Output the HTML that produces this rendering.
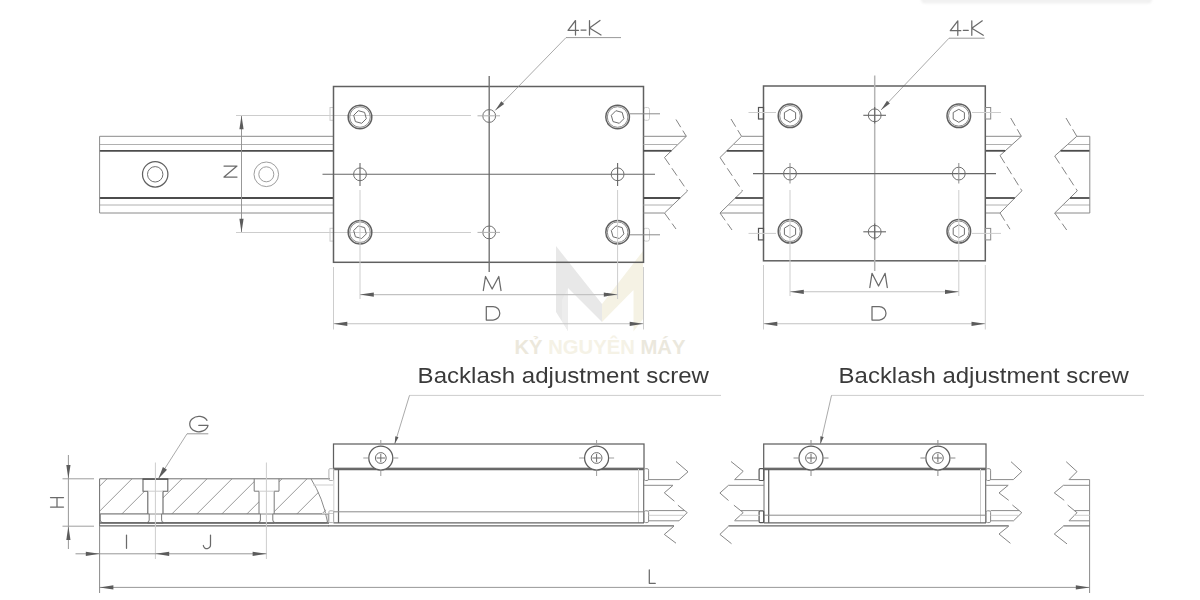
<!DOCTYPE html>
<html><head><meta charset="utf-8"><title>Linear stage drawing</title>
<style>
html,body{margin:0;padding:0;background:#fff;}
svg{display:block;}
line,polyline,path,circle,rect{fill:none;stroke-linecap:butt;stroke-linejoin:miter;}
.k{stroke:#606060;stroke-width:1.5}
.k3{stroke:#606060;stroke-width:1.25}
.k4{stroke:#707070;stroke-width:1.35}
.c2{stroke:#b4b4b4;stroke-width:1.5}
.k1{stroke:#666;stroke-width:1.1}
.k2{stroke:#4c4c4c;stroke-width:1.8}
.kw{stroke:#5e5e5e;stroke-width:1.25;fill:#fff}
.mw{stroke:#7a7a7a;stroke-width:1;fill:#fff}
.kf{stroke:#606060;stroke-width:1.5;fill:#fff}
.kc{stroke:#666;stroke-width:1.1;fill:#fff}
.m{stroke:#8a8a8a;stroke-width:1}
.m2{stroke:#6e6e6e;stroke-width:1}
.m4{stroke:#999;stroke-width:0.95}
.m3{stroke:#555;stroke-width:1.2}
.l{stroke:#cdcdcd;stroke-width:1}
.l2{stroke:#aaa;stroke-width:1}
.l3{stroke:#b0b0b0;stroke-width:1}
.d{stroke:#c2c2c2;stroke-width:1.1}
.t{stroke:#8c8c8c;stroke-width:0.9}
.t2{stroke:#858585;stroke-width:0.7}
.t3{stroke:#777;stroke-width:0.9}
.h{stroke:#808080;stroke-width:0.8}
.tx{stroke:#6a6a6a;stroke-width:1.25;stroke-linejoin:round;stroke-linecap:round}
.bl{font-family:"Liberation Sans",sans-serif;font-size:22.4px;fill:#3a3a3a;}
.wm{font-family:"Liberation Sans",sans-serif;font-size:19.5px;font-weight:bold;}
</style></head>
<body>
<svg width="1200" height="600" viewBox="0 0 1200 600">
<defs><filter id="bl" x="-10%" y="-100%" width="120%" height="300%"><feGaussianBlur stdDeviation="1.3"/></filter></defs>
<rect x="0" y="0" width="1200" height="600" style="fill:#fff;stroke:none"/>
<g opacity="0.9">
<polygon fill="#e6e6e6" points="556,246 602,304 602,322 568,288 568,331 556,312"/>
<polygon fill="#f4f1e2" points="643,251 602,304 602,322 633.5,290 633.5,331.5 643,319"/>
<polygon fill="#ececec" points="568,288 568,331 562,321 562,300"/>
</g>
<text class="wm" x="514.5" y="353.7" textLength="171" lengthAdjust="spacingAndGlyphs"><tspan fill="#ece8dc">KỶ</tspan><tspan fill="#f5f2e6"> NGUYÊN </tspan><tspan fill="#ebe8dd">MÁY</tspan></text>
<rect x="921" y="-5" width="231" height="8.5" rx="4" style="fill:#f1f1f1;stroke:none" filter="url(#bl)"/>
<g id="dwg" style="filter:blur(0.35px)">
<line class="m" x1="99.6" y1="136.3" x2="333.5" y2="136.3"/>
<line class="l3" x1="99.6" y1="144.5" x2="333.5" y2="144.5"/>
<line class="k2" x1="99.6" y1="150.8" x2="333.5" y2="150.8"/>
<line class="k2" x1="99.6" y1="198" x2="333.5" y2="198"/>
<line class="l3" x1="99.6" y1="205" x2="333.5" y2="205"/>
<line class="m" x1="99.6" y1="213" x2="333.5" y2="213"/>
<line class="m" x1="99.6" y1="136.3" x2="99.6" y2="213"/>
<circle class="k3" cx="155.2" cy="174.3" r="12.7"/>
<circle class="m2" cx="155.2" cy="174.3" r="7.7"/>
<circle class="m4" cx="266.3" cy="174.3" r="12.3"/>
<circle class="m4" cx="266.3" cy="174.3" r="7.5"/>
<line class="t" x1="241.5" y1="115.5" x2="241.5" y2="232.5"/>
<polygon fill="#5c5c5c" points="241.5,115.5 243.6,129.3 239.4,129.3"/>
<polygon fill="#5c5c5c" points="241.5,232.5 239.4,218.7 243.6,218.7"/>
<line class="l" x1="236" y1="115.5" x2="471" y2="115.5"/>
<line class="l" x1="236" y1="232.5" x2="471" y2="232.5"/>
<polyline class="tx" points="224,166 237,166 224,177 237,177"/>
<rect class="l" x="330" y="107.5" width="3.5" height="12.8" rx="0"/>
<rect class="l" x="643.5" y="107.5" width="6" height="12.8" rx="2"/>
<rect class="l" x="330" y="228.3" width="3.5" height="12.8" rx="0"/>
<rect class="l" x="643.5" y="228.3" width="6" height="12.8" rx="2"/>
<rect class="k" x="333.5" y="86.5" width="310" height="175.8" rx="0"/>
<line class="k4" x1="489.2" y1="76" x2="489.2" y2="272"/>
<line class="k1" x1="322.5" y1="174.3" x2="655" y2="174.3"/>
<circle class="k" cx="360" cy="117" r="11.8"/>
<circle class="m" cx="360" cy="117" r="10.3"/>
<polyline class="m2" points="366.3,118.7 361.7,123.3 355.4,121.6 353.7,115.3 358.3,110.7 364.6,112.4 366.3,118.7"/>
<circle class="k" cx="360" cy="232.2" r="11.8"/>
<circle class="m" cx="360" cy="232.2" r="10.3"/>
<polyline class="m2" points="366.3,233.9 361.7,238.5 355.4,236.8 353.7,230.5 358.3,225.9 364.6,227.6 366.3,233.9"/>
<circle class="m2" cx="360" cy="174.3" r="6.4"/>
<line class="k1" x1="360" y1="163" x2="360" y2="186"/>
<circle class="k" cx="617.6" cy="117" r="11.8"/>
<circle class="m" cx="617.6" cy="117" r="10.3"/>
<polyline class="m2" points="623.9,118.7 619.3,123.3 613.0,121.6 611.3,115.3 615.9,110.7 622.2,112.4 623.9,118.7"/>
<circle class="k" cx="617.6" cy="232.2" r="11.8"/>
<circle class="m" cx="617.6" cy="232.2" r="10.3"/>
<polyline class="m2" points="623.9,233.9 619.3,238.5 613.0,236.8 611.3,230.5 615.9,225.9 622.2,227.6 623.9,233.9"/>
<circle class="m2" cx="617.6" cy="174.3" r="6.4"/>
<line class="k1" x1="617.6" y1="163" x2="617.6" y2="186"/>
<circle class="m2" cx="489.2" cy="116" r="6.4"/>
<circle class="m2" cx="489.2" cy="232.4" r="6.4"/>
<line class="l3" x1="477.5" y1="115.8" x2="500" y2="115.8"/>
<line class="l3" x1="477.5" y1="232.4" x2="500" y2="232.4"/>
<line class="m" x1="630" y1="113.8" x2="660" y2="113.8"/>
<line class="m" x1="630" y1="234.8" x2="660" y2="234.8"/>
<line class="l" x1="360" y1="190" x2="360" y2="299"/>
<line class="l" x1="617.6" y1="190" x2="617.6" y2="299"/>
<line class="d" x1="360" y1="294.6" x2="617.6" y2="294.6"/>
<polygon fill="#5c5c5c" points="360.0,294.6 373.8,292.5 373.8,296.7"/>
<polygon fill="#5c5c5c" points="617.6,294.6 603.8,296.7 603.8,292.5"/>
<line class="l" x1="333.5" y1="267" x2="333.5" y2="329.5"/>
<line class="l" x1="643.5" y1="267" x2="643.5" y2="329.5"/>
<line class="d" x1="333.5" y1="323.8" x2="643.5" y2="323.8"/>
<polygon fill="#5c5c5c" points="333.5,323.8 347.3,321.7 347.3,325.9"/>
<polygon fill="#5c5c5c" points="643.5,323.8 629.7,325.9 629.7,321.7"/>
<polyline class="tx" points="483.3,290.5 485.5,276.5 492.15,289.0 498.8,276.5 501,290.5"/>
<path class="tx" d="M486.3,306.5 V320 H493.05 A6.75,6.75 0 0 0 493.05,306.5 Z"/>
<path class="tx" d="M575.5,35 V20.5 L568,30.36 H578.5"/>
<line class="tx" x1="581" y1="30.07" x2="586" y2="30.07"/>
<path class="tx" d="M589.5,20.5 V35 M600.0,20.5 L589.5,28.04 L601.0,35"/>
<line class="t" x1="566" y1="37.6" x2="621" y2="37.6"/>
<line class="t2" x1="566" y1="37.6" x2="495.2" y2="110.4"/>
<polygon fill="#5c5c5c" points="495.2,110.4 501.3,101.3 504.2,104.1"/>
<path class="tx" d="M957.8,35.3 V20.8 L950.3,30.659999999999997 H960.8"/>
<line class="tx" x1="963.3" y1="30.369999999999997" x2="968.3" y2="30.369999999999997"/>
<path class="tx" d="M971.8,20.8 V35.3 M982.3,20.8 L971.8,28.34 L983.3,35.3"/>
<line class="t" x1="949" y1="38.2" x2="984.6" y2="38.2"/>
<line class="t2" x1="949" y1="38.2" x2="881" y2="110"/>
<polygon fill="#5c5c5c" points="881.0,110.0 887.0,100.8 889.9,103.5"/>
<line class="t3" x1="676" y1="119.5" x2="686.3" y2="136.3" stroke-dasharray="9 4"/>
<line class="t3" x1="664.5" y1="157.5" x2="687.5" y2="191" stroke-dasharray="9 4"/>
<line class="t3" x1="664.5" y1="213" x2="676" y2="229" stroke-dasharray="9 4"/>
<line class="t3" x1="686.3" y1="136.3" x2="664.5" y2="157.5"/>
<line class="t3" x1="687.5" y1="191" x2="664.5" y2="213"/>
<line class="m" x1="643.5" y1="136.3" x2="686.3" y2="136.3"/>
<line class="l3" x1="643.5" y1="144.5" x2="677.9" y2="144.5"/>
<line class="k2" x1="643.5" y1="150.8" x2="671.4" y2="150.8"/>
<line class="k2" x1="643.5" y1="198" x2="680.2" y2="198"/>
<line class="l3" x1="643.5" y1="205" x2="672.9" y2="205"/>
<line class="m" x1="643.5" y1="213" x2="664.5" y2="213"/>
<line class="t3" x1="731" y1="119" x2="741.5" y2="136.3" stroke-dasharray="9 4"/>
<line class="t3" x1="720" y1="157.5" x2="742.5" y2="191" stroke-dasharray="9 4"/>
<line class="t3" x1="720" y1="213" x2="732" y2="230" stroke-dasharray="9 4"/>
<line class="t3" x1="741.5" y1="136.3" x2="720" y2="157.5"/>
<line class="t3" x1="742.5" y1="191" x2="720" y2="213"/>
<line class="m" x1="763.5" y1="136.3" x2="741.5" y2="136.3"/>
<line class="l3" x1="763.5" y1="144.5" x2="733.2" y2="144.5"/>
<line class="k2" x1="763.5" y1="150.8" x2="726.8" y2="150.8"/>
<line class="k2" x1="763.5" y1="198" x2="735.3" y2="198"/>
<line class="l3" x1="763.5" y1="205" x2="728.2" y2="205"/>
<line class="m" x1="763.5" y1="213" x2="720.0" y2="213"/>
<line class="t3" x1="1010.7" y1="118" x2="1021.3" y2="136.3" stroke-dasharray="9 4"/>
<line class="t3" x1="1000" y1="155.5" x2="1021.9" y2="190.8" stroke-dasharray="9 4"/>
<line class="t3" x1="1000" y1="213" x2="1010" y2="229.2" stroke-dasharray="9 4"/>
<line class="t3" x1="1021.3" y1="136.3" x2="1000" y2="155.5"/>
<line class="t3" x1="1021.9" y1="190.8" x2="1000" y2="213"/>
<line class="m" x1="985.3" y1="136.3" x2="1021.3" y2="136.3"/>
<line class="l3" x1="985.3" y1="144.5" x2="1012.2" y2="144.5"/>
<line class="k2" x1="985.3" y1="150.8" x2="1005.2" y2="150.8"/>
<line class="k2" x1="985.3" y1="198" x2="1014.8" y2="198"/>
<line class="l3" x1="985.3" y1="205" x2="1007.9" y2="205"/>
<line class="m" x1="985.3" y1="213" x2="1000.0" y2="213"/>
<line class="t3" x1="1066" y1="118" x2="1076.8" y2="136.3" stroke-dasharray="9 4"/>
<line class="t3" x1="1054.7" y1="156" x2="1077.3" y2="190.8" stroke-dasharray="9 4"/>
<line class="t3" x1="1054.7" y1="213" x2="1066.7" y2="230" stroke-dasharray="9 4"/>
<line class="t3" x1="1076.8" y1="136.3" x2="1054.7" y2="156"/>
<line class="t3" x1="1077.3" y1="190.8" x2="1054.7" y2="213"/>
<line class="m" x1="1089.8" y1="136.3" x2="1076.8" y2="136.3"/>
<line class="l3" x1="1089.8" y1="144.5" x2="1067.6" y2="144.5"/>
<line class="k2" x1="1089.8" y1="150.8" x2="1060.5" y2="150.8"/>
<line class="k2" x1="1089.8" y1="198" x2="1070.0" y2="198"/>
<line class="l3" x1="1089.8" y1="205" x2="1062.8" y2="205"/>
<line class="m" x1="1089.8" y1="213" x2="1054.7" y2="213"/>
<line class="m" x1="1089.8" y1="136.3" x2="1089.8" y2="213"/>
<rect class="k" x="763.5" y="86" width="221.8" height="174.8" rx="0"/>
<line class="c2" x1="874.7" y1="75.5" x2="874.7" y2="271"/>
<line class="k1" x1="753" y1="173.6" x2="996" y2="173.6"/>
<circle class="k" cx="790" cy="115.8" r="11.8"/>
<circle class="m" cx="790" cy="115.8" r="10.3"/>
<polyline class="m2" points="795.6,119.0 790.0,122.3 784.4,119.0 784.4,112.5 790.0,109.3 795.6,112.5 795.6,119.0"/>
<circle class="k" cx="790" cy="231.3" r="11.8"/>
<circle class="m" cx="790" cy="231.3" r="10.3"/>
<polyline class="m2" points="795.6,234.6 790.0,237.8 784.4,234.6 784.4,228.1 790.0,224.8 795.6,228.1 795.6,234.6"/>
<circle class="m2" cx="790" cy="173.6" r="6.4"/>
<line class="m" x1="790" y1="163" x2="790" y2="183.5"/>
<circle class="k" cx="958.8" cy="115.8" r="11.8"/>
<circle class="m" cx="958.8" cy="115.8" r="10.3"/>
<polyline class="m2" points="964.4,119.0 958.8,122.3 953.2,119.0 953.2,112.5 958.8,109.3 964.4,112.5 964.4,119.0"/>
<circle class="k" cx="958.8" cy="231.3" r="11.8"/>
<circle class="m" cx="958.8" cy="231.3" r="10.3"/>
<polyline class="m2" points="964.4,234.6 958.8,237.8 953.2,234.6 953.2,228.1 958.8,224.8 964.4,228.1 964.4,234.6"/>
<circle class="m2" cx="958.8" cy="173.6" r="6.4"/>
<line class="m" x1="958.8" y1="163" x2="958.8" y2="183.5"/>
<circle class="m2" cx="874.7" cy="115.3" r="6.4"/>
<circle class="m2" cx="874.7" cy="231.8" r="6.4"/>
<line class="k1" x1="863.3" y1="115.3" x2="886" y2="115.3"/>
<line class="k1" x1="863.3" y1="231.8" x2="886" y2="231.8"/>
<line class="k1" x1="874.7" y1="107" x2="874.7" y2="123.5"/>
<line class="k1" x1="874.7" y1="223.5" x2="874.7" y2="240"/>
<rect class="m3" x="758.5" y="107.5" width="5" height="11.5" rx="0"/>
<rect class="m" x="985.3" y="107.5" width="5.4" height="11.5" rx="0"/>
<line class="l" x1="748.5" y1="112.5" x2="776" y2="112.5"/>
<line class="l" x1="972" y1="112.5" x2="1001" y2="112.5"/>
<rect class="m3" x="758.5" y="228.4" width="5" height="11.5" rx="0"/>
<rect class="m" x="985.3" y="228.4" width="5.4" height="11.5" rx="0"/>
<line class="l" x1="748.5" y1="233.4" x2="776" y2="233.4"/>
<line class="l" x1="972" y1="233.4" x2="1001" y2="233.4"/>
<line class="l" x1="790" y1="190" x2="790" y2="296"/>
<line class="l" x1="958.8" y1="190" x2="958.8" y2="296"/>
<line class="d" x1="790" y1="291.8" x2="958.8" y2="291.8"/>
<polygon fill="#5c5c5c" points="790.0,291.8 803.8,289.7 803.8,293.9"/>
<polygon fill="#5c5c5c" points="958.8,291.8 945.0,293.9 945.0,289.7"/>
<line class="l" x1="763.5" y1="265" x2="763.5" y2="329.5"/>
<line class="l" x1="985.3" y1="265" x2="985.3" y2="329.5"/>
<line class="d" x1="763.5" y1="323.8" x2="985.3" y2="323.8"/>
<polygon fill="#5c5c5c" points="763.5,323.8 777.3,321.7 777.3,325.9"/>
<polygon fill="#5c5c5c" points="985.3,323.8 971.5,325.9 971.5,321.7"/>
<polyline class="tx" points="869.8,287.5 872.0,273.3 878.55,286.0 885.0999999999999,273.3 887.3,287.5"/>
<path class="tx" d="M872,306.5 V320 H879.25 A6.75,6.75 0 0 0 879.25,306.5 Z"/>
<defs><clipPath id="hc"><path d="M99.6,478.8 H311 Q323,498 327.5,514 H99.6 Z"/></clipPath></defs>
<g clip-path="url(#hc)">
<line class="h" x1="82" y1="478.8" x2="46" y2="514.8"/>
<line class="h" x1="107" y1="478.8" x2="71" y2="514.8"/>
<line class="h" x1="132" y1="478.8" x2="96" y2="514.8"/>
<line class="h" x1="157" y1="478.8" x2="121" y2="514.8"/>
<line class="h" x1="182" y1="478.8" x2="146" y2="514.8"/>
<line class="h" x1="207" y1="478.8" x2="171" y2="514.8"/>
<line class="h" x1="232" y1="478.8" x2="196" y2="514.8"/>
<line class="h" x1="257" y1="478.8" x2="221" y2="514.8"/>
<line class="h" x1="282" y1="478.8" x2="246" y2="514.8"/>
<line class="h" x1="307" y1="478.8" x2="271" y2="514.8"/>
<line class="h" x1="332" y1="478.8" x2="296" y2="514.8"/>
<line class="h" x1="357" y1="478.8" x2="321" y2="514.8"/>
</g>
<path class="kc" d="M143.0,478.8 V491.2 H147.8 V523 H163.0 V491.2 H167.8 V478.8"/>
<path class="l" d="M147.8,491.2 H163.0" />
<path class="k2" d="M142.6,479 H168.20000000000002" />
<path class="mw" d="M254.20000000000002,478.8 V491.2 H259.0 V523 H274.20000000000005 V491.2 H279.0 V478.8"/>
<path class="l" d="M259.0,491.2 H274.20000000000005" />
<line class="m2" x1="99.6" y1="478.8" x2="330" y2="478.8"/>
<line class="m2" x1="99.6" y1="478.8" x2="99.6" y2="526"/>
<line class="m" x1="99.6" y1="514" x2="327.5" y2="514"/>
<path class="mw" d="M100.3,514 H149.2 V520 Q149.2,522.7 146.5,522.7 H103.0 Q100.3,522.7 100.3,520 Z"/>
<path class="mw" d="M161.6,514 H260.4 V520 Q260.4,522.7 257.7,522.7 H164.29999999999998 Q161.6,522.7 161.6,520 Z"/>
<path class="mw" d="M272.8,514 H328.3 V520 Q328.3,522.7 325.6,522.7 H275.5 Q272.8,522.7 272.8,520 Z"/>
<line class="k" x1="99.6" y1="522.9" x2="329" y2="522.9"/>
<line class="k1" x1="99.6" y1="525.9" x2="329" y2="525.9"/>
<path class="m" d="M311,478.8 Q323,498 327.5,522"/>
<line class="l" x1="313" y1="485" x2="333" y2="485"/>
<line class="l" x1="322" y1="513.5" x2="333" y2="513.5"/>
<line class="l" x1="155.4" y1="462.5" x2="155.4" y2="559"/>
<line class="l" x1="266.4" y1="462.5" x2="266.4" y2="559"/>
<line class="t" x1="68.4" y1="455" x2="68.4" y2="549"/>
<polygon fill="#5c5c5c" points="68.4,478.8 66.3,465.0 70.5,465.0"/>
<polygon fill="#5c5c5c" points="68.4,526.2 70.5,540.0 66.3,540.0"/>
<line class="m4" x1="62.5" y1="478.8" x2="94" y2="478.8"/>
<line class="m4" x1="62.5" y1="526.2" x2="94" y2="526.2"/>
<path class="tx" d="M50.5,497.5 H63.5 M50.5,507 H63.5 M57,497.5 V507"/>
<line class="t" x1="75.5" y1="553.8" x2="266.4" y2="553.8"/>
<polygon fill="#5c5c5c" points="99.6,553.8 85.8,555.9 85.8,551.7"/>
<polygon fill="#5c5c5c" points="155.4,553.8 169.2,551.7 169.2,555.9"/>
<polygon fill="#5c5c5c" points="266.4,553.8 252.6,555.9 252.6,551.7"/>
<line class="tx" x1="126.5" y1="535" x2="126.5" y2="548.3"/>
<path class="tx" d="M210.5,535 V544.5 A3.6,3.6 0 0 1 203.3,545.5"/>
<line class="m" x1="99.6" y1="526" x2="99.6" y2="593"/>
<line class="m" x1="1089.6" y1="479.6" x2="1089.6" y2="593"/>
<line class="t" x1="99.6" y1="587.4" x2="1089.6" y2="587.4"/>
<polygon fill="#5c5c5c" points="99.6,587.4 113.4,585.3 113.4,589.5"/>
<polygon fill="#5c5c5c" points="1089.6,587.4 1075.8,589.5 1075.8,585.3"/>
<path class="tx" d="M649.3,569.8 V583.3 H655.3"/>
<path class="tx" d="M207,420.3 A9.2,7.7 0 1 0 208,425.4 H198.8"/>
<line class="t" x1="187" y1="433.8" x2="208.3" y2="433.8"/>
<line class="t2" x1="187" y1="433.8" x2="158.6" y2="478.3"/>
<polygon fill="#5c5c5c" points="158.4,478.7 162.9,467.1 167.0,469.7"/>
<rect class="k3" x="333.5" y="444" width="310.5" height="24.3" rx="0"/>
<line class="k1" x1="333.5" y1="469.6" x2="644" y2="469.6"/>
<line class="k3" x1="338.5" y1="469" x2="338.5" y2="523"/>
<line class="k1" x1="643.7" y1="469" x2="643.7" y2="523"/>
<line class="l" x1="333.8" y1="469" x2="333.8" y2="523"/>
<line class="l" x1="638.5" y1="469" x2="638.5" y2="523"/>
<line class="m" x1="333.5" y1="511.8" x2="644" y2="511.8"/>
<line class="k1" x1="333.5" y1="522.9" x2="644" y2="522.9"/>
<rect class="l3" x="328.9" y="468.7" width="4.6" height="11.8" rx="1"/>
<rect class="m" x="644" y="468.7" width="4.6" height="11.8" rx="1.5"/>
<rect class="l3" x="328.9" y="510.8" width="4.6" height="11.8" rx="1"/>
<rect class="m" x="644" y="510.8" width="4.6" height="11.8" rx="1.5"/>
<circle class="kw" cx="380.8" cy="458" r="12"/>
<circle class="m2" cx="380.8" cy="458" r="5.4"/>
<line class="m2" x1="376.6" y1="458" x2="385.0" y2="458"/>
<line class="m2" x1="380.8" y1="453.8" x2="380.8" y2="462.2"/>
<line class="m4" x1="363.3" y1="458" x2="368.3" y2="458"/>
<line class="m4" x1="393.3" y1="458" x2="398.3" y2="458"/>
<line class="m4" x1="380.8" y1="440" x2="380.8" y2="445.5"/>
<line class="m4" x1="380.8" y1="470.5" x2="380.8" y2="476"/>
<circle class="kw" cx="596.6" cy="458" r="12"/>
<circle class="m2" cx="596.6" cy="458" r="5.4"/>
<line class="m2" x1="592.4" y1="458" x2="600.8000000000001" y2="458"/>
<line class="m2" x1="596.6" y1="453.8" x2="596.6" y2="462.2"/>
<line class="m4" x1="579.1" y1="458" x2="584.1" y2="458"/>
<line class="m4" x1="609.1" y1="458" x2="614.1" y2="458"/>
<line class="m4" x1="596.6" y1="440" x2="596.6" y2="445.5"/>
<line class="m4" x1="596.6" y1="470.5" x2="596.6" y2="476"/>
<rect class="k3" x="763.7" y="444" width="222.29999999999995" height="24.3" rx="0"/>
<line class="k1" x1="763.7" y1="469.6" x2="986" y2="469.6"/>
<line class="k3" x1="768.7" y1="469" x2="768.7" y2="523"/>
<line class="k1" x1="985.7" y1="469" x2="985.7" y2="523"/>
<line class="m2" x1="764.0" y1="469" x2="764.0" y2="523"/>
<line class="l" x1="980.5" y1="469" x2="980.5" y2="523"/>
<line class="m" x1="763.7" y1="515.2" x2="986" y2="515.2"/>
<line class="k1" x1="763.7" y1="522.9" x2="986" y2="522.9"/>
<rect class="m3" x="759.1" y="468.7" width="4.6" height="11.8" rx="1"/>
<rect class="m" x="986" y="468.7" width="4.6" height="11.8" rx="1.5"/>
<rect class="m3" x="759.1" y="510.8" width="4.6" height="11.8" rx="1"/>
<rect class="m" x="986" y="510.8" width="4.6" height="11.8" rx="1.5"/>
<circle class="kw" cx="811" cy="458" r="12"/>
<circle class="m2" cx="811" cy="458" r="5.4"/>
<line class="m2" x1="806.8" y1="458" x2="815.2" y2="458"/>
<line class="m2" x1="811" y1="453.8" x2="811" y2="462.2"/>
<line class="m" x1="793.5" y1="458" x2="798.5" y2="458"/>
<line class="m" x1="823.5" y1="458" x2="828.5" y2="458"/>
<line class="m" x1="811" y1="440" x2="811" y2="445.5"/>
<line class="m" x1="811" y1="470.5" x2="811" y2="476"/>
<circle class="kw" cx="937.9" cy="458" r="12"/>
<circle class="m2" cx="937.9" cy="458" r="5.4"/>
<line class="m2" x1="933.6999999999999" y1="458" x2="942.1" y2="458"/>
<line class="m2" x1="937.9" y1="453.8" x2="937.9" y2="462.2"/>
<line class="m" x1="920.4" y1="458" x2="925.4" y2="458"/>
<line class="m" x1="950.4" y1="458" x2="955.4" y2="458"/>
<line class="m" x1="937.9" y1="440" x2="937.9" y2="445.5"/>
<line class="m" x1="937.9" y1="470.5" x2="937.9" y2="476"/>
<line class="k1" x1="328.5" y1="525.9" x2="674" y2="525.9"/>
<line class="k1" x1="728.5" y1="525.9" x2="1008.7" y2="525.9"/>
<text class="bl" x="417.6" y="382.6" textLength="291.4" lengthAdjust="spacingAndGlyphs">Backlash adjustment screw</text>
<line class="l" x1="409.5" y1="395.4" x2="721" y2="395.4"/>
<line class="t2" x1="409.5" y1="395.4" x2="394.7" y2="444"/>
<polygon fill="#5c5c5c" points="394.7,444.0 395.3,436.3 398.5,437.3"/>
<text class="bl" x="838.6" y="382.6" textLength="290.3" lengthAdjust="spacingAndGlyphs">Backlash adjustment screw</text>
<line class="l" x1="831.5" y1="395.4" x2="1144" y2="395.4"/>
<line class="t2" x1="831.5" y1="395.4" x2="820.4" y2="444"/>
<polygon fill="#5c5c5c" points="820.4,444.0 820.4,436.3 823.7,437.1"/>
<polyline class="t3" points="676,461.5 688,471.8 679,479.6"/>
<polyline class="t3" points="673,485.3 664.3,492.8 674.4,501.2"/>
<polyline class="t3" points="677.9,505.2 687.2,512.6 679,520.8"/>
<polyline class="t3" points="673.9,526.2 664.3,534.4 676,543.2"/>
<polyline class="t3" points="731,461.5 743.2,471.3 734.6,479.6"/>
<polyline class="t3" points="728.5,485.3 719.9,493 728.5,500.5"/>
<polyline class="t3" points="733.9,505.2 743.2,512.6 734.6,520.5"/>
<polyline class="t3" points="728.5,526.2 719.9,534.4 731.5,543.7"/>
<polyline class="t3" points="1011,461.7 1021.8,471.6 1013.3,479.6"/>
<polyline class="t3" points="1008.2,485.3 999,492.9 1008.7,500.3"/>
<polyline class="t3" points="1012.4,505 1021.8,512.7 1013.3,521"/>
<polyline class="t3" points="1008.7,526.2 999,534 1010.4,543.3"/>
<polyline class="t3" points="1066.2,461.7 1077,471.6 1069,479.6"/>
<polyline class="t3" points="1063.4,485.3 1054.3,492.9 1064.2,500.3"/>
<polyline class="t3" points="1067.6,505 1077,512.7 1069,520.8"/>
<polyline class="t3" points="1063.4,526.2 1054.3,534 1067,543.9"/>
<line class="m" x1="648.6" y1="479.6" x2="679" y2="479.6"/>
<line class="m" x1="644" y1="485.3" x2="673" y2="485.3"/>
<line class="m" x1="648.6" y1="510.6" x2="684.7" y2="510.6"/>
<line class="l" x1="648.6" y1="515.3" x2="683.7" y2="515.3"/>
<line class="m" x1="648.6" y1="520.8" x2="679" y2="520.8"/>
<line class="m" x1="759.8" y1="479.6" x2="734.6" y2="479.6"/>
<line class="m" x1="764" y1="485.3" x2="728.5" y2="485.3"/>
<line class="m" x1="759.8" y1="510.6" x2="740.7" y2="510.6"/>
<line class="l" x1="759.8" y1="515.3" x2="739.7" y2="515.3"/>
<line class="m" x1="759.8" y1="520.8" x2="734.6" y2="520.8"/>
<line class="m" x1="990.6" y1="479.6" x2="1013.3" y2="479.6"/>
<line class="m" x1="986" y1="485.3" x2="1008.2" y2="485.3"/>
<line class="m" x1="990.6" y1="510.6" x2="1019.3" y2="510.6"/>
<line class="l" x1="990.6" y1="515.3" x2="1018.3" y2="515.3"/>
<line class="m" x1="990.6" y1="520.8" x2="1013.3" y2="520.8"/>
<line class="m" x1="1089.6" y1="479.6" x2="1069" y2="479.6"/>
<line class="m" x1="1089.6" y1="485.3" x2="1063.4" y2="485.3"/>
<line class="m" x1="1089.6" y1="510.6" x2="1074.5" y2="510.6"/>
<line class="l" x1="1089.6" y1="515.3" x2="1073.5" y2="515.3"/>
<line class="m" x1="1089.6" y1="520.8" x2="1069" y2="520.8"/>
<line class="k1" x1="1063.4" y1="525.9" x2="1089.6" y2="525.9"/>
</g>
</svg>
</body></html>
